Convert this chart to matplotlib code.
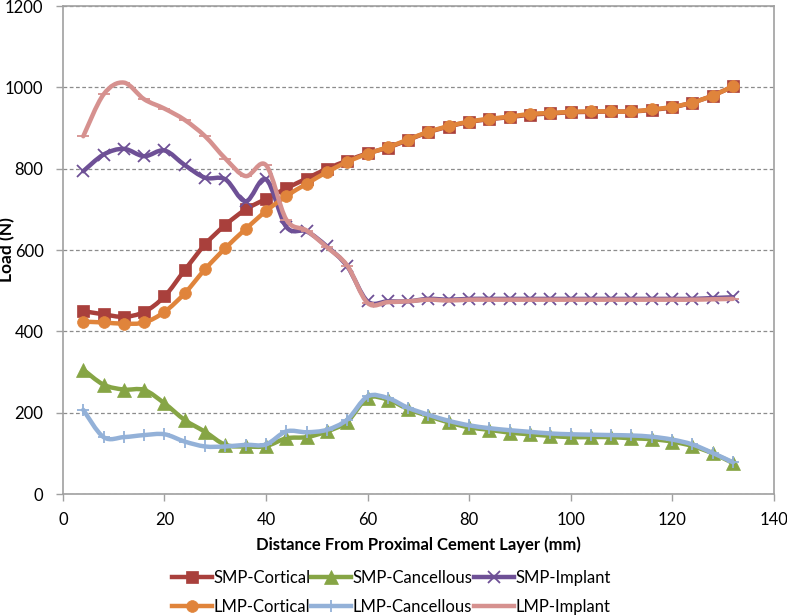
import numpy as np
import matplotlib
matplotlib.use("Agg")
import matplotlib.pyplot as plt
from matplotlib.path import Path
from matplotlib.patches import PathPatch
from matplotlib.lines import Line2D

plt.rcParams['font.family'] = ['Lato', 'DejaVu Sans']

# === Data ===
distance = list(range(4, 133, 4))

smp_cortical = [450, 442, 436, 448, 486, 551, 614, 662, 700, 726, 752, 776,
                800, 820, 838, 852, 871, 890, 904, 915, 922, 927, 933, 936,
                939, 940, 941, 941, 945, 951, 963, 980, 1003]
lmp_cortical = [424, 422, 419, 422, 448, 494, 553, 605, 652, 696, 733, 763,
                792, 817, 837, 853, 872, 891, 905, 916, 923, 928, 935, 937,
                940, 941, 941, 941, 946, 952, 963, 980, 1003]
smp_cancellous = [306, 269, 257, 256, 223, 182, 153, 121, 117, 118, 137, 140,
                  154, 178, 236, 232, 209, 192, 176, 164, 158, 151, 147, 143,
                  140, 140, 140, 137, 135, 129, 118, 100, 76]
lmp_cancellous = [207, 140, 140, 145, 147, 129, 117, 117, 121, 122, 154, 152,
                  158, 183, 240, 236, 212, 195, 180, 169, 162, 157, 153, 149,
                  147, 146, 145, 144, 141, 134, 122, 101, 78]
smp_implant = [794, 835, 849, 831, 845, 809, 778, 774, 720, 774, 657, 646,
               609, 560, 474, 474, 474, 480, 478, 480, 480, 480, 480, 480,
               480, 480, 480, 480, 480, 480, 480, 482, 484]
lmp_implant = [880, 983, 1012, 971, 948, 920, 880, 825, 782, 809, 675, 648,
               607, 562, 470, 472, 474, 478, 476, 478, 478, 478, 478, 478,
               478, 478, 478, 478, 478, 478, 478, 479, 480]

# name, values, colour, marker, marker size
SERIES = [
    ("SMP-Cortical", smp_cortical, "#A9403C", "s", 8.5),
    ("LMP-Cortical", lmp_cortical, "#E0843B", "o", 8.5),
    ("SMP-Cancellous", smp_cancellous, "#86A545", "^", 9.5),
    ("LMP-Cancellous", lmp_cancellous, "#93B1D8", "+", 9),
    ("SMP-Implant", smp_implant, "#6E5096", "x", 9),
    ("LMP-Implant", lmp_implant, "#D6918F", "_", 8),
]
DRAW_ORDER = ["SMP-Cortical", "SMP-Cancellous", "SMP-Implant",
              "LMP-Cortical", "LMP-Cancellous", "LMP-Implant"]


def smooth_path(x, y):
    # Catmull-Rom style bezier through the points (like Excel smoothed lines)
    x = np.asarray(x, float)
    y = np.asarray(y, float)
    n = len(x)
    verts = [(x[0], y[0])]
    codes = [Path.MOVETO]
    for i in range(n - 1):
        x0, y0 = (x[i - 1], y[i - 1]) if i > 0 else (x[i], y[i])
        x3, y3 = (x[i + 2], y[i + 2]) if i + 2 < n else (x[i + 1], y[i + 1])
        c1 = (x[i] + (x[i + 1] - x0) / 6, y[i] + (y[i + 1] - y0) / 6)
        c2 = (x[i + 1] - (x3 - x[i]) / 6, y[i + 1] - (y3 - y[i]) / 6)
        verts += [c1, c2, (x[i + 1], y[i + 1])]
        codes += [Path.CURVE4] * 3
    return Path(verts, codes)


def edge_width(mk):
    return 1.3 if mk in ("x", "+", "_") else 0.5


fig = plt.figure(figsize=(7.87, 6.16), dpi=100)
ax = fig.add_axes([0.080, 0.198, 0.903, 0.792])

lookup = {s[0]: s for s in SERIES}
for z, name in enumerate(DRAW_ORDER):
    _, vals, col, mk, ms = lookup[name]
    ax.add_patch(PathPatch(smooth_path(distance, vals), facecolor="none",
                           edgecolor=col, lw=3.2, zorder=3 + z * 2,
                           capstyle="round", joinstyle="round"))
    ax.plot(distance, vals, linestyle="none", marker=mk, markersize=ms,
            color=col, markeredgewidth=edge_width(mk), zorder=4 + z * 2)

ax.set_xlim(0, 140)
ax.set_ylim(0, 1200)
ax.set_xticks(range(0, 141, 20))
ax.set_yticks(range(0, 1201, 200))
ax.yaxis.grid(True, linestyle=(0, (3, 2)), color="#8C8C8C", lw=0.9)
ax.set_axisbelow(True)

for side in ["left", "bottom", "top", "right"]:
    ax.spines[side].set_color("#A0A0A0")
    ax.spines[side].set_linewidth(1.2)
ax.tick_params(direction="out", length=5, width=1, color="#A0A0A0",
               labelsize=12)
ax.tick_params(axis="x", pad=8)
ax.tick_params(axis="y", pad=9)

ax.set_xlabel("Distance From Proximal Cement Layer (mm)", fontsize=12,
              fontweight="bold")
ax.xaxis.set_label_coords(0.5, -0.1045)
ax.xaxis.label.set_va("center")
ax.set_ylabel("Load (N)", fontsize=12.5, fontweight="bold")
ax.yaxis.set_label_coords(-0.078, 0.502)
ax.yaxis.label.set_va("center")

handles = []
for name, vals, col, mk, ms in SERIES:
    handles.append(Line2D([], [], color=col, lw=3.2, marker=mk,
                          markersize=ms, markeredgewidth=edge_width(mk),
                          label=name))
fig.legend(handles=handles, loc="center", ncol=3, frameon=False,
           fontsize=12, bbox_to_anchor=(0.497, 0.038), handlelength=2.4,
           handletextpad=0.1, columnspacing=0.05, labelspacing=0.8,
           borderpad=0, borderaxespad=0)

fig.savefig("out.png", dpi=100)
